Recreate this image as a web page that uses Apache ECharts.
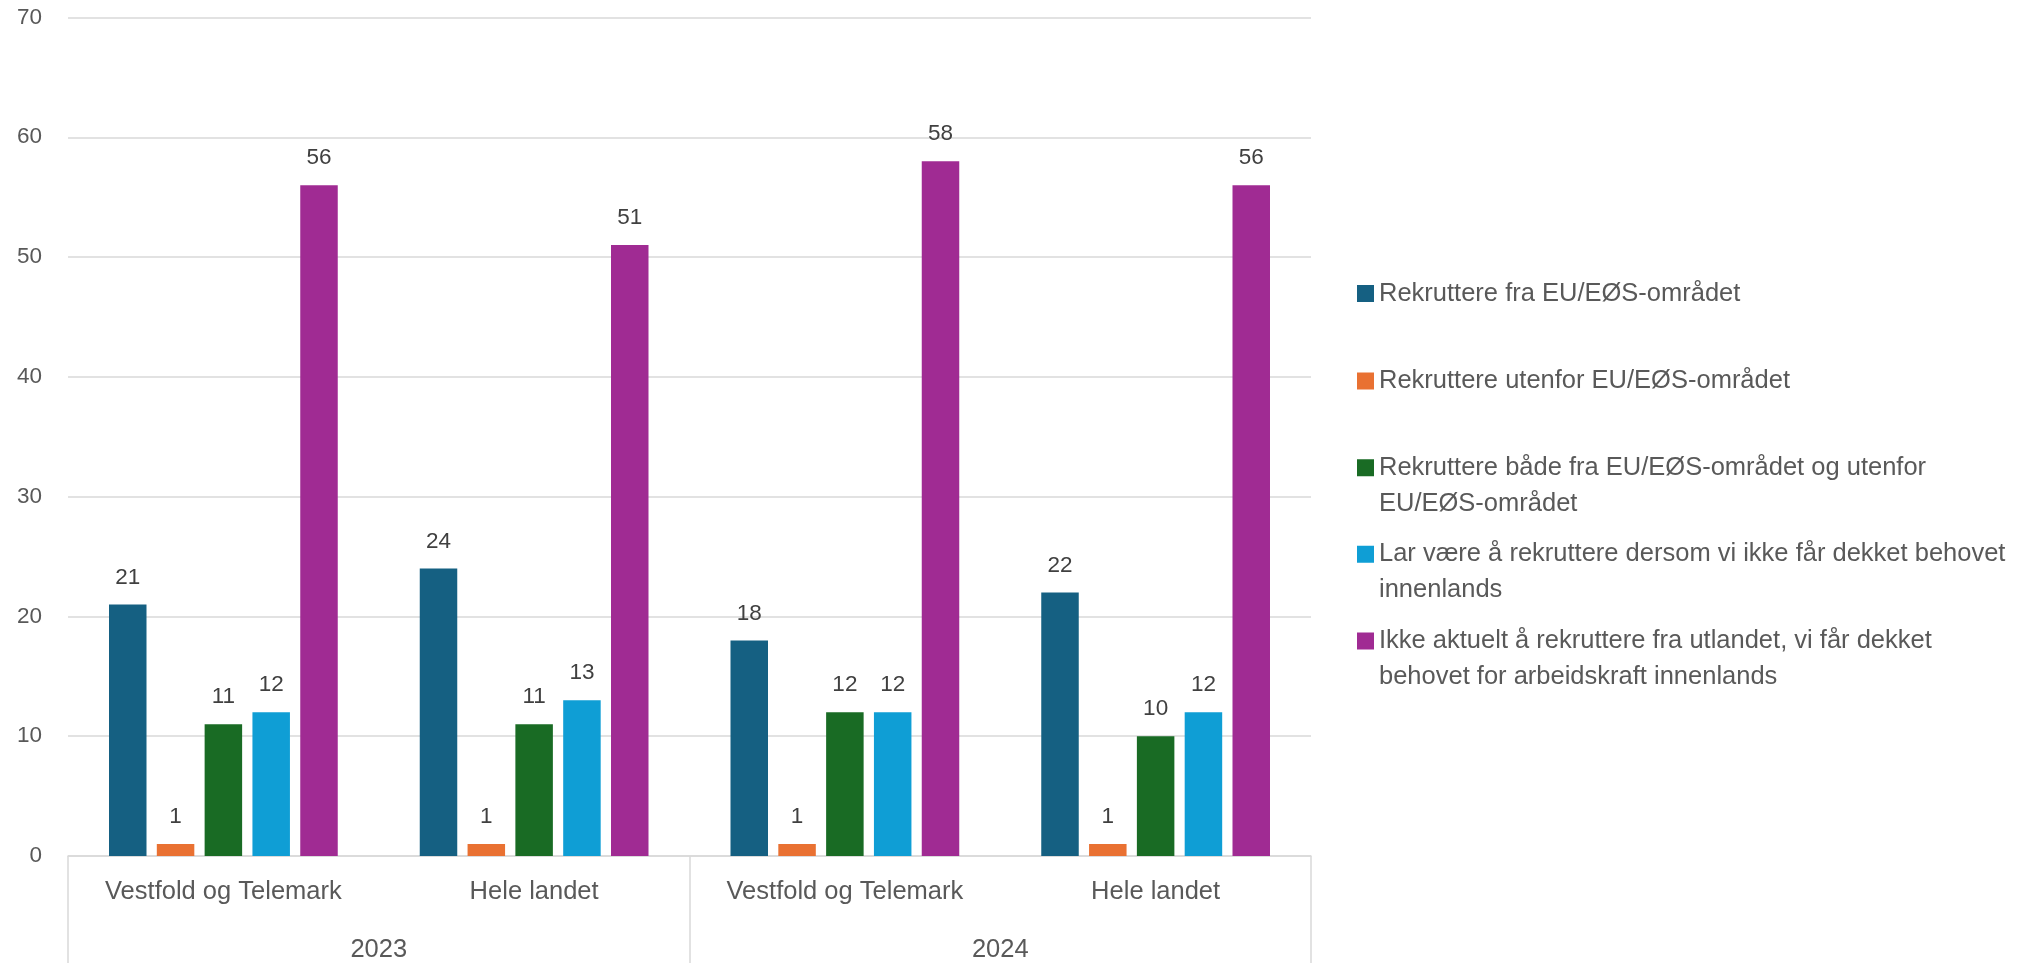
<!DOCTYPE html>
<html>
<head>
<meta charset="utf-8">
<script src="https://cdn.jsdelivr.net/npm/echarts@6/dist/echarts.min.js"></script>
<style>
  html, body { margin: 0; padding: 0; background: #ffffff; }
  #chart { width: 2025px; height: 963px; }
</style>
</head>
<body>
<div id="chart"></div>
<script>
// ---- data ----
var categories = ['Vestfold og Telemark', 'Hele landet', 'Vestfold og Telemark', 'Hele landet'];
var years = ['2023', '2024'];
var yTicks = { min: 0, max: 70, interval: 10 };

var seriesNames = [
  'Rekruttere fra EU/EØS-området',
  'Rekruttere utenfor EU/EØS-området',
  'Rekruttere både fra EU/EØS-området og utenfor EU/EØS-området',
  'Lar være å rekruttere dersom vi ikke får dekket behovet innenlands',
  'Ikke aktuelt å rekruttere fra utlandet, vi får dekket behovet for arbeidskraft innenlands'
];
// legend line breaks (as in the reference)
var legendLines = [
  ['Rekruttere fra EU/EØS-området'],
  ['Rekruttere utenfor EU/EØS-området'],
  ['Rekruttere både fra EU/EØS-området og utenfor', 'EU/EØS-området'],
  ['Lar være å rekruttere dersom vi ikke får dekket behovet', 'innenlands'],
  ['Ikke aktuelt å rekruttere fra utlandet, vi får dekket', 'behovet for arbeidskraft innenlands']
];

var euEos       = [21, 24, 18, 22];
var utenfor     = [1, 1, 1, 1];
var begge       = [11, 11, 12, 10];
var larVaere    = [12, 13, 12, 12];
var ikkeAktuelt = [56, 51, 58, 56];
var seriesValues = [euEos, utenfor, begge, larVaere, ikkeAktuelt];

var colors = ['#156082', '#E97132', '#196B24', '#0F9ED5', '#A02B93'];

// ---- chart ----
var FONT = "'Liberation Sans', Arial, sans-serif";
var chart = echarts.init(document.getElementById('chart'), null, { renderer: 'canvas' });

var series = seriesNames.map(function (name, i) {
  return {
    name: name,
    type: 'bar',
    data: seriesValues[i],
    barWidth: 37.5,
    barGap: '27.5%',
    itemStyle: { color: colors[i] },
    label: {
      show: true,
      position: 'top',
      distance: 15,
      color: '#404040',
      fontSize: 22.5,
      lineHeight: 24,
      fontFamily: FONT
    }
  };
});

var LINE_H = 36;
var SWATCH = 17;
var legendIconCenters = [293.5, 381, 467.7, 554.3, 641];
var legends = seriesNames.map(function (name, i) {
  var nLines = legendLines[i].length;
  var h = SWATCH + (nLines - 1) * LINE_H;
  // square swatch at the top of the item box, so it sits beside the first text line
  var icon = nLines > 1
    ? 'path://M0,0h' + SWATCH + 'v' + SWATCH + 'h-' + SWATCH + 'zM0,' + (h - 0.1) + 'h0.01v0.1h-0.01z'
    : 'rect';
  return {
    data: [name],
    orient: 'vertical',
    left: 1357,
    top: legendIconCenters[i] - 18,
    padding: 0,
    itemWidth: SWATCH,
    itemHeight: h,
    icon: icon,
    formatter: function (n) { return legendLines[seriesNames.indexOf(n)].join('\n'); },
    textStyle: {
      color: '#595959',
      fontSize: 25.5,
      lineHeight: LINE_H,
      fontFamily: FONT
    },
    selectedMode: false
  };
});

var option = {
  backgroundColor: '#ffffff',
  animation: false,
  color: colors,
  grid: { left: 68, right: 714, top: 17.5, bottom: 107, containLabel: false },
  legend: legends,
  xAxis: [
    {
      type: 'category',
      data: categories,
      position: 'bottom',
      axisLine: { show: true, lineStyle: { color: '#d9d9d9', width: 1.5 } },
      axisTick: { show: false },
      axisLabel: { interval: 0, margin: 23, color: '#595959', fontSize: 25.5, lineHeight: 26, fontFamily: FONT },
      splitLine: { show: false }
    },
    {
      type: 'category',
      data: years,
      position: 'bottom',
      offset: 0,
      axisLine: { show: false },
      axisTick: { show: true, interval: 0, length: 107, lineStyle: { color: '#d9d9d9', width: 1.5 } },
      axisLabel: { interval: 0, margin: 81, color: '#595959', fontSize: 25.5, lineHeight: 26, fontFamily: FONT },
      splitLine: { show: false }
    }
  ],
  yAxis: {
    type: 'value',
    min: yTicks.min,
    max: yTicks.max,
    interval: yTicks.interval,
    axisLine: { show: false },
    axisTick: { show: false },
    axisLabel: { margin: 26, color: '#595959', fontSize: 22.5, fontFamily: FONT },
    splitLine: { show: true, lineStyle: { color: '#d9d9d9', width: 1.5 } }
  },
  series: series
};

chart.setOption(option);
</script>
</body>
</html>
